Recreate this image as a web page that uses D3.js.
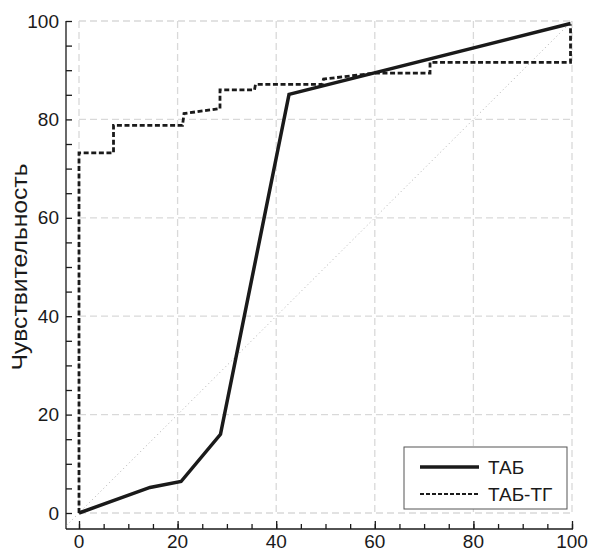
<!DOCTYPE html>
<html>
<head>
<meta charset="utf-8">
<script src="https://cdn.jsdelivr.net/npm/d3@7"></script>
<style>
  body { margin: 0; background: #fff; }
  text { font-family: "Liberation Sans", Arial, sans-serif; fill: #1a1a1a; }
</style>
</head>
<body>
<svg id="chart"></svg>
<script>
// ТАБ (solid) ROC curve points: [1 - specificity, sensitivity]
const tabX = [0, 14.4, 20.7, 28.7, 42.6, 99.7];
const tabY = [0, 5.2, 6.4, 16.0, 85.1, 99.5];

// ТАБ-ТГ (dashed) ROC steps
const tgX = [0, 0, 7.0, 7.0, 21.0, 21.3, 28.6, 28.6, 35.6, 35.8, 49.3, 49.6, 60.0, 71.2, 71.2, 99.7, 99.7];
const tgY = [0, 73.2, 73.2, 78.8, 78.8, 81.2, 82.2, 86.0, 86.0, 87.1, 87.1, 88.2, 89.4, 89.4, 91.6, 91.6, 99.3];

// reference diagonal
const diag = [-2.5, 100];

const xTicks = [0, 20, 40, 60, 80, 100];
const yTicks = [0, 20, 40, 60, 80, 100];
const yLabel = "Чувствительность";
const legendNames = ["ТАБ", "ТАБ-ТГ"];

const width = 591, height = 552;
const margin = {top: 21, right: 19, bottom: 39, left: 79};

const svg = d3.select("#chart").attr("width", width).attr("height", height);

const x = d3.scaleLinear().domain([0, 100]).range([margin.left, width - margin.right]);
const y = d3.scaleLinear().domain([0, 100]).range([height - margin.bottom, margin.top]);

// grid
svg.append("g").selectAll("line")
    .data(xTicks).enter().append("line")
    .attr("x1", d => x(d)).attr("x2", d => x(d))
    .attr("y1", y(100)).attr("y2", y(0))
    .attr("stroke", "#d9d9d9").attr("stroke-width", 1.3)
    .attr("stroke-dasharray", "7,4");
svg.append("g").selectAll("line")
    .data(yTicks).enter().append("line")
    .attr("y1", d => y(d)).attr("y2", d => y(d))
    .attr("x1", x(0)).attr("x2", x(100))
    .attr("stroke", "#d9d9d9").attr("stroke-width", 1.3)
    .attr("stroke-dasharray", "7,4");

// axes, drawn offset from the plot area
const xAxisY = 529, yAxisX = 66;

const xMinor = d3.range(0, 101, 5);
svg.append("g")
    .attr("transform", `translate(0,${xAxisY})`)
    .call(d3.axisTop(x).tickValues(xMinor).tickSize(5).tickFormat(""))
    .call(g => g.select(".domain").attr("d", `M${yAxisX},0H${x(100) + 1}`));
svg.append("g")
    .attr("transform", `translate(0,${xAxisY})`)
    .call(d3.axisTop(x).tickValues(xTicks).tickSize(8).tickFormat(""))
    .call(g => g.select(".domain").remove());
svg.append("g").selectAll("text")
    .data(xTicks).enter().append("text")
    .attr("x", d => x(d)).attr("y", 548)
    .attr("text-anchor", "middle")
    .style("font-size", "19px")
    .text(d => d);

const yMinor = d3.range(0, 101, 5);
svg.append("g")
    .attr("transform", `translate(${yAxisX},0)`)
    .call(d3.axisRight(y).tickValues(yMinor).tickSize(6).tickFormat(""))
    .call(g => g.select(".domain").attr("d", `M0,${y(100)}V${xAxisY}`));
svg.append("g").selectAll("text")
    .data(yTicks).enter().append("text")
    .attr("x", 59).attr("y", d => y(d))
    .attr("dy", "0.35em")
    .attr("text-anchor", "end")
    .style("font-size", "19px")
    .text(d => d);
svg.selectAll(".tick line, .domain").attr("stroke", "#1a1a1a").attr("stroke-width", 1.3);

svg.append("text")
    .attr("transform", `translate(27,${(y(0) + y(100)) / 2}) rotate(-90)`)
    .attr("text-anchor", "middle")
    .attr("textLength", 207)
    .attr("lengthAdjust", "spacingAndGlyphs")
    .style("font-size", "22px")
    .text(yLabel);

// diagonal
const line = d3.line().x(d => x(d[0])).y(d => y(d[1]));
svg.append("path")
    .datum(diag.map(v => [v, v]))
    .attr("d", line)
    .attr("fill", "none").attr("stroke", "#b0b0b0")
    .attr("stroke-width", 1).attr("stroke-dasharray", "1,3");

// ТАБ-ТГ
svg.append("path")
    .datum(tgX.map((v, i) => [v, tgY[i]]))
    .attr("d", line)
    .attr("fill", "none").attr("stroke", "#1a1a1a")
    .attr("stroke-width", 2.8).attr("stroke-dasharray", "5,2.6");

// ТАБ
svg.append("path")
    .datum(tabX.map((v, i) => [v, tabY[i]]))
    .attr("d", line)
    .attr("fill", "none").attr("stroke", "#1a1a1a")
    .attr("stroke-width", 3.5).attr("stroke-linejoin", "miter");

// legend
const lg = svg.append("g").attr("transform", "translate(404,447)");
lg.append("rect")
    .attr("width", 163).attr("height", 62)
    .attr("fill", "#fff").attr("stroke", "#555").attr("stroke-width", 1);
lg.selectAll("line.item")
    .data(legendNames).enter().append("line")
    .attr("x1", 16).attr("x2", 75)
    .attr("y1", (d, i) => 20 + i * 27).attr("y2", (d, i) => 20 + i * 27)
    .attr("stroke", "#1a1a1a")
    .attr("stroke-width", (d, i) => i === 0 ? 3.5 : 2)
    .attr("stroke-dasharray", (d, i) => i === 0 ? null : "4,2");
lg.selectAll("text")
    .data(legendNames).enter().append("text")
    .attr("x", 84).attr("y", (d, i) => 20 + i * 27)
    .attr("dy", "0.35em")
    .style("font-size", "19px")
    .text(d => d);
</script>
</body>
</html>
